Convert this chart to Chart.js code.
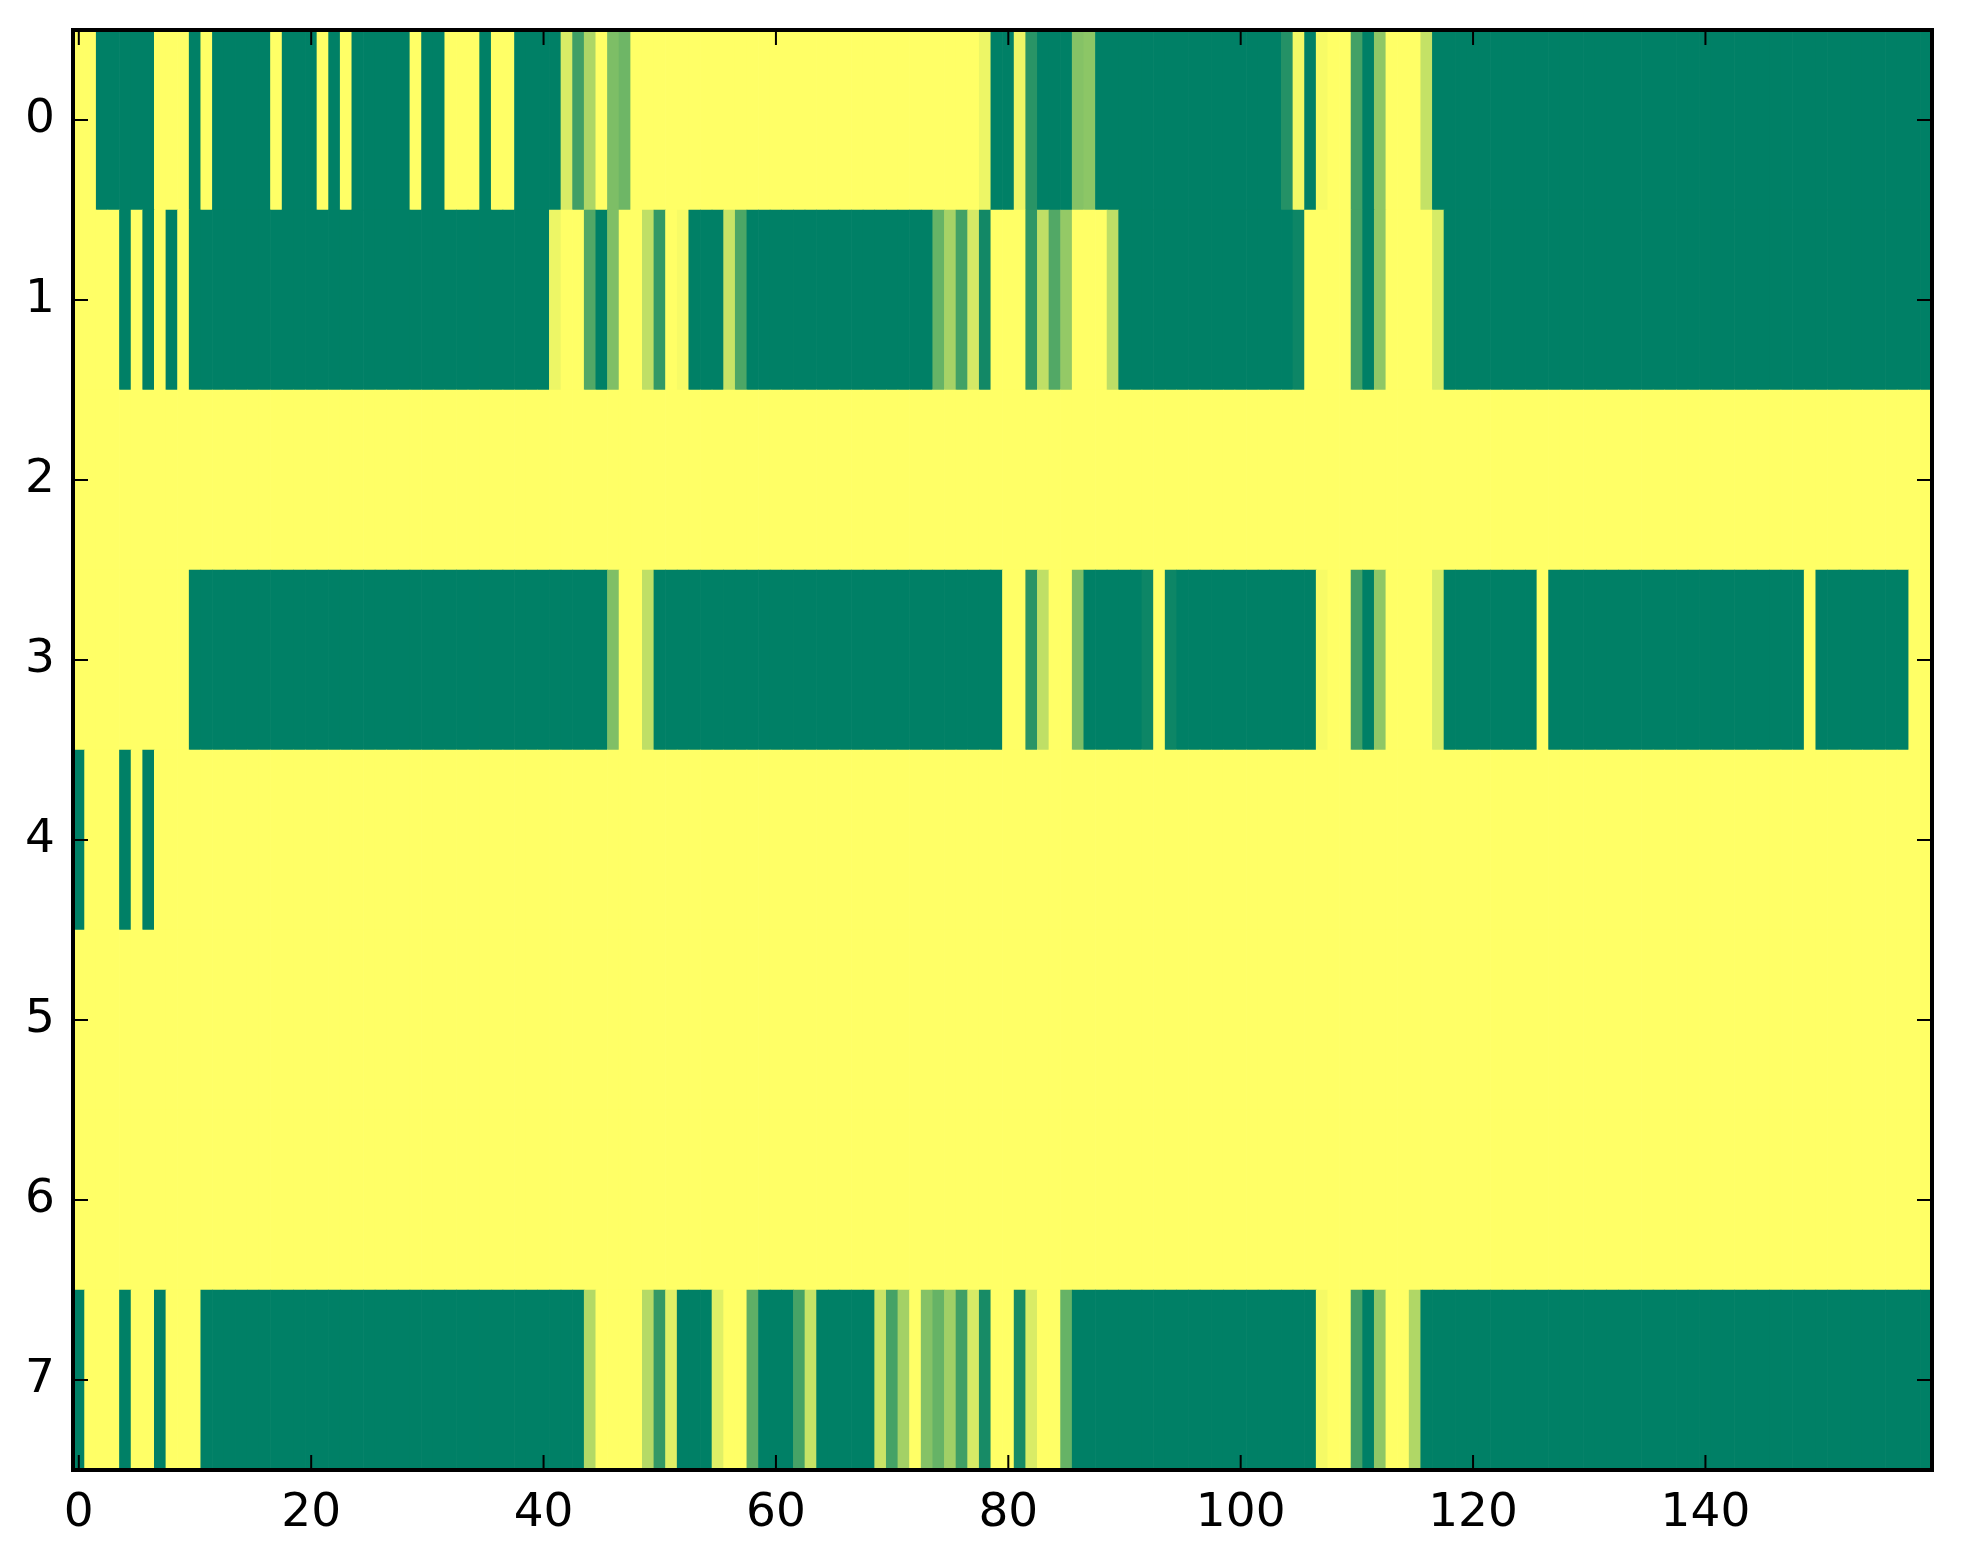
<!DOCTYPE html>
<html>
<head>
<meta charset="utf-8">
<script src="https://cdn.jsdelivr.net/npm/chart.js@4.4.1/dist/chart.umd.min.js"></script>
<style>
  html, body { margin: 0; padding: 0; background: #fff; }
  #wrap { width: 1963px; height: 1564px; position: relative; }
</style>
</head>
<body>
<div id="wrap"><canvas id="heat"></canvas></div>
<script>
// cell values per row (0 = dark green, 1 = yellow), 160 columns each
const row0 = [
  1,1,0,0,0,0,0,1,1,1, 0,1,0,0,0,0,0,1,0,0,
  0,1,0,1,0,0,0,0,0,1, 0,0,1,1,1,0,1,1,0,0,
  0,0,0.85,0.25,0.68,1,0.49,0.43,1,1, 1,1,1,1,1,1,1,1,1,1,
  1,1,1,1,1,1,1,1,1,1, 1,1,1,1,1,1,1,1,0.93,0,
  0,0.93,0.16,0,0,0,0.52,0.55,0,0, 0,0,0,0,0,0,0,0,0,0,
  0,0,0,0,0.14,0.95,0,0.97,1,1, 0.26,0,0.56,1,1,1,0.77,0,0,0,
  0,0,0,0,0,0,0,0,0,0, 0,0,0,0,0,0,0,0,0,0,
  0,0,0,0,0,0,0,0,0,0, 0,0,0,0,0,0,0,0,0,0
];
const row1 = [
  1,1,1,1,0,1,0,1,0,1, 0,0,0,0,0,0,0,0,0,0,
  0,0,0,0,0,0,0,0,0,0, 0,0,0,0,0,0,0,0,0,0,
  0,0.93,1,1,0.32,0,0.5,1,1,0.75, 0.2,1,0.97,0,0,0,0.78,0.3,0,0,
  0,0,0,0,0,0,0,0,0,0, 0,0,0,0,0.4,0.65,0.26,0.83,0.07,1,
  1,1,0.18,0.75,0.32,0.58,1,1,1,0.74, 0,0,0,0,0,0,0,0,0,0,
  0,0,0,0,0,0.05,1,1,1,1, 0.26,0,0.56,1,1,1,1,0.84,0,0,
  0,0,0,0,0,0,0,0,0,0, 0,0,0,0,0,0,0,0,0,0,
  0,0,0,0,0,0,0,0,0,0, 0,0,0,0,0,0,0,0,0,0
];
const row2 = [
  1,1,1,1,1,1,1,1,1,1, 1,1,1,1,1,1,1,1,1,1,
  1,1,1,1,1,1,1,1,1,1, 1,1,1,1,1,1,1,1,1,1,
  1,1,1,1,1,1,1,1,1,1, 1,1,1,1,1,1,1,1,1,1,
  1,1,1,1,1,1,1,1,1,1, 1,1,1,1,1,1,1,1,1,1,
  1,1,1,1,1,1,1,1,1,1, 1,1,1,1,1,1,1,1,1,1,
  1,1,1,1,1,1,1,1,1,1, 1,1,1,1,1,1,1,1,1,1,
  1,1,1,1,1,1,1,1,1,1, 1,1,1,1,1,1,1,1,1,1,
  1,1,1,1,1,1,1,1,1,1, 1,1,1,1,1,1,1,1,1,1
];
const row3 = [
  1,1,1,1,1,1,1,1,1,1, 0,0,0,0,0,0,0,0,0,0,
  0,0,0,0,0,0,0,0,0,0, 0,0,0,0,0,0,0,0,0,0,
  0,0,0,0,0,0,0.5,1,1,0.75, 0,0,0,0,0,0,0,0,0,0,
  0,0,0,0,0,0,0,0,0,0, 0,0,0,0,0,0,0,0,0,0,
  1,1,0.16,0.75,1,1,0.49,0,0,0, 0,0,0.05,1,0.05,0,0,0,0,0,
  0,0,0,0,0,0,0,0.97,1,1, 0.26,0,0.56,1,1,1,1,0.84,0,0,
  0,0,0,0,0,0,1,0,0,0, 0,0,0,0,0,0,0,0,0,0,
  0,0,0,0,0,0,0,0,0,1, 0,0,0,0,0,0,0,0,1,1
];
const row4 = [
  0,1,1,1,0,1,0,1,1,1, 1,1,1,1,1,1,1,1,1,1,
  1,1,1,1,1,1,1,1,1,1, 1,1,1,1,1,1,1,1,1,1,
  1,1,1,1,1,1,1,1,1,1, 1,1,1,1,1,1,1,1,1,1,
  1,1,1,1,1,1,1,1,1,1, 1,1,1,1,1,1,1,1,1,1,
  1,1,1,1,1,1,1,1,1,1, 1,1,1,1,1,1,1,1,1,1,
  1,1,1,1,1,1,1,1,1,1, 1,1,1,1,1,1,1,1,1,1,
  1,1,1,1,1,1,1,1,1,1, 1,1,1,1,1,1,1,1,1,1,
  1,1,1,1,1,1,1,1,1,1, 1,1,1,1,1,1,1,1,1,1
];
const row5 = [
  1,1,1,1,1,1,1,1,1,1, 1,1,1,1,1,1,1,1,1,1,
  1,1,1,1,1,1,1,1,1,1, 1,1,1,1,1,1,1,1,1,1,
  1,1,1,1,1,1,1,1,1,1, 1,1,1,1,1,1,1,1,1,1,
  1,1,1,1,1,1,1,1,1,1, 1,1,1,1,1,1,1,1,1,1,
  1,1,1,1,1,1,1,1,1,1, 1,1,1,1,1,1,1,1,1,1,
  1,1,1,1,1,1,1,1,1,1, 1,1,1,1,1,1,1,1,1,1,
  1,1,1,1,1,1,1,1,1,1, 1,1,1,1,1,1,1,1,1,1,
  1,1,1,1,1,1,1,1,1,1, 1,1,1,1,1,1,1,1,1,1
];
const row6 = [
  1,1,1,1,1,1,1,1,1,1, 1,1,1,1,1,1,1,1,1,1,
  1,1,1,1,1,1,1,1,1,1, 1,1,1,1,1,1,1,1,1,1,
  1,1,1,1,1,1,1,1,1,1, 1,1,1,1,1,1,1,1,1,1,
  1,1,1,1,1,1,1,1,1,1, 1,1,1,1,1,1,1,1,1,1,
  1,1,1,1,1,1,1,1,1,1, 1,1,1,1,1,1,1,1,1,1,
  1,1,1,1,1,1,1,1,1,1, 1,1,1,1,1,1,1,1,1,1,
  1,1,1,1,1,1,1,1,1,1, 1,1,1,1,1,1,1,1,1,1,
  1,1,1,1,1,1,1,1,1,1, 1,1,1,1,1,1,1,1,1,1
];
const row7 = [
  0,1,1,1,0,1,1,0,1,1, 1,0,0,0,0,0,0,0,0,0,
  0,0,0,0,0,0,0,0,0,0, 0,0,0,0,0,0,0,0,0,0,
  0,0,0,0,0.7,1,1,1,1,0.71, 0.2,0.88,0,0,0,0.88,1,1,0.37,0,
  0,0,0.28,0.78,0,0,0,0,0,0.79, 0.27,0.64,1,0.52,0.4,0.63,0.25,0.84,0.09,1,
  1,0.09,0.85,1,1,0.4,0,0,0,0, 0,0,0,0,0,0,0,0,0,0,
  0,0,0,0,0,0,0,0.96,1,1, 0.27,0,0.56,1,1,0.69,0,0,0,0,
  0,0,0,0,0,0,0,0,0,0, 0,0,0,0,0,0,0,0,0,0,
  0,0,0,0,0,0,0,0,0,0, 0,0,0,0,0,0,0,0,0,0
];

const rows      = [row0, row1, row2, row3, row4, row5, row6, row7];
const rowTicks  = [0, 1, 2, 3, 4, 5, 6, 7];
const rowLabels = ['0', '1', '2', '3', '4', '5', '6', '7'];
const colTicks  = [0, 20, 40, 60, 80, 100, 120, 140];
const colLabels = ['0', '20', '40', '60', '80', '100', '120', '140'];

// matplotlib "summer" colormap
function summer(v) {
    const r = Math.round(255 * v);
    const g = Math.round(255 * (0.5 + v / 2));
    return 'rgb(' + r + ',' + g + ',102)';
}

// one floating bar per cell
const cells = [];
rows.forEach((vals, r) => {
    vals.forEach((v, c) => {
        cells.push({ x: [c - 0.5, c + 0.5], y: r, v: v });
    });
});

// black frame with inward ticks on all four sides
const frame = {
    id: 'frame',
    afterDatasetsDraw(chart) {
        const { ctx, chartArea: a, scales } = chart;
        const x = scales.x, y = scales.y;
        ctx.save();
        ctx.strokeStyle = '#000';
        ctx.lineWidth = 2;
        ctx.beginPath();
        colTicks.forEach(v => {
            const px = x.getPixelForValue(v);
            ctx.moveTo(px, a.bottom); ctx.lineTo(px, a.bottom - 15);
            ctx.moveTo(px, a.top);    ctx.lineTo(px, a.top + 15);
        });
        rowTicks.forEach(v => {
            const py = y.getPixelForValue(v);
            ctx.moveTo(a.left, py);  ctx.lineTo(a.left + 15, py);
            ctx.moveTo(a.right, py); ctx.lineTo(a.right - 15, py);
        });
        ctx.stroke();
        ctx.lineWidth = 4;
        ctx.strokeRect(a.left, a.top, a.right - a.left, a.bottom - a.top);
        ctx.restore();
    }
};

const tickFont = { family: 'DejaVu Sans', size: 47 };

// keep the plot box fixed: no extra room for label overflow
function noPad(s) {
    s.paddingTop = 0; s.paddingBottom = 0;
    s.paddingLeft = 0; s.paddingRight = 0;
}

new Chart(document.getElementById('heat').getContext('2d'), {
    type: 'bar',
    data: {
        datasets: [{
            data: cells,
            backgroundColor: ctx => summer(ctx.raw ? ctx.raw.v : 0),
            borderWidth: 0,
            barPercentage: 1,
            categoryPercentage: 1
        }]
    },
    options: {
        indexAxis: 'y',
        responsive: true,
        maintainAspectRatio: false,
        animation: false,
        layout: { padding: { top: 30, right: 31, left: 0, bottom: 0 } },
        plugins: { legend: { display: false }, tooltip: { enabled: false } },
        scales: {
            x: {
                type: 'linear',
                position: 'bottom',
                min: -0.5,
                max: 159.5,
                offset: false,
                grid: { display: false },
                border: { display: false },
                afterBuildTicks: s => { s.ticks = colTicks.map(v => ({ value: v })); },
                afterFit: s => { s.height = 94; noPad(s); },
                ticks: {
                    autoSkip: false,
                    maxRotation: 0,
                    padding: 8,
                    color: '#000',
                    font: tickFont,
                    callback: v => colLabels[colTicks.indexOf(v)]
                }
            },
            y: {
                type: 'linear',
                position: 'left',
                min: -0.5,
                max: 7.5,
                reverse: true,
                offset: false,
                grid: { display: false },
                border: { display: false },
                afterBuildTicks: s => { s.ticks = rowTicks.map(v => ({ value: v })); },
                afterFit: s => { s.width = 73; noPad(s); },
                ticks: {
                    autoSkip: false,
                    padding: 10,
                    color: '#000',
                    font: tickFont,
                    callback: v => rowLabels[rowTicks.indexOf(v)]
                }
            }
        }
    },
    plugins: [frame]
});
</script>
</body>
</html>
